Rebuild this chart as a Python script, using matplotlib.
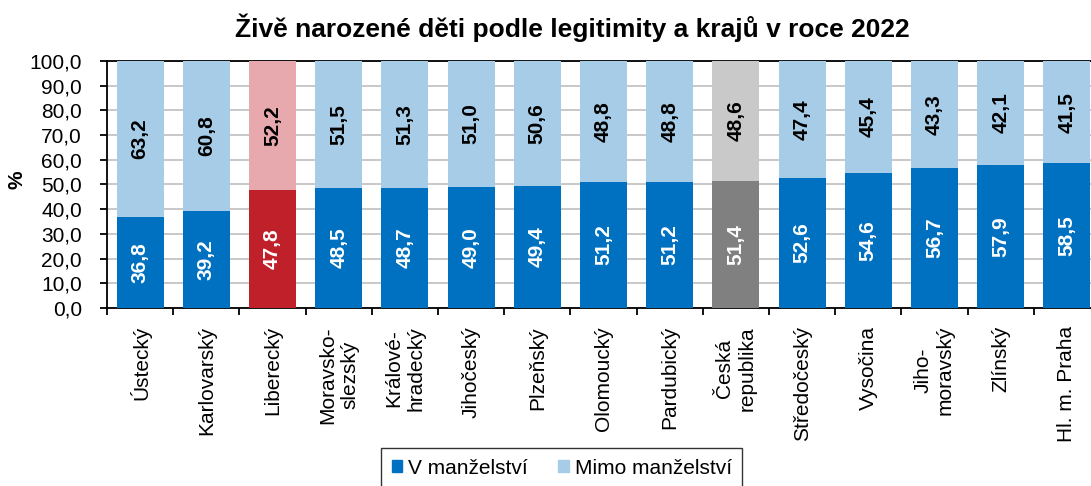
import numpy as np
import matplotlib.pyplot as plt
from matplotlib.patches import Patch

plt.rcParams['font.family'] = ['Liberation Sans', 'DejaVu Sans']

# data
regions = ["Ústecký", "Karlovarský", "Liberecký", "Moravsko-\nslezský", "Králové-\nhradecký",
           "Jihočeský", "Plzeňský", "Olomoucký", "Pardubický", "Česká\nrepublika",
           "Středočeský", "Vysočina", "Jiho-\nmoravský", "Zlínský", "Hl. m. Praha"]
v_manzelstvi = [36.8, 39.2, 47.8, 48.5, 48.7, 49.0, 49.4, 51.2, 51.2, 51.4, 52.6, 54.6, 56.7, 57.9, 58.5]
mimo_manzelstvi = [63.2, 60.8, 52.2, 51.5, 51.3, 51.0, 50.6, 48.8, 48.8, 48.6, 47.4, 45.4, 43.3, 42.1, 41.5]

dark = ["#0070C0"] * len(regions)
light = ["#A7CCE8"] * len(regions)
# Liberecký highlighted, Czech Republic in grey
dark[2] = "#C0202A"
light[2] = "#E8A9AE"
dark[9] = "#808080"
light[9] = "#C9C9C9"

fs = 15

fig = plt.figure(figsize=(10.91, 4.86), dpi=100)
ax = fig.add_axes([0.0981, 0.3663, 0.9101, 0.5082])

x = np.arange(len(regions))
w = 0.71
ax.bar(x, v_manzelstvi, w, color=dark, zorder=3)
ax.bar(x, mimo_manzelstvi, w, bottom=v_manzelstvi, color=light, zorder=3)

for i in range(len(regions)):
    ax.text(x[i], v_manzelstvi[i] / 2, f"{v_manzelstvi[i]:.1f}".replace(".", ","),
            rotation=90, ha="center", va="center", color="white", fontsize=fs, fontweight="bold", zorder=4)
    ax.text(x[i], v_manzelstvi[i] + mimo_manzelstvi[i] / 2, f"{mimo_manzelstvi[i]:.1f}".replace(".", ","),
            rotation=90, ha="center", va="center", color="black", fontsize=fs, fontweight="bold", zorder=4)

ax.set_xlim(-0.5, len(regions) - 0.5)
ax.set_ylim(0, 100)
ax.set_yticks(np.arange(0, 101, 10))
ax.set_yticklabels([f"{v:.1f}".replace(".", ",") for v in np.arange(0, 101, 10)], fontsize=fs)
ax.yaxis.grid(True, color="#BFBFBF", linewidth=1.2, zorder=0)
ax.set_xticks(np.arange(-0.5, len(regions), 1), minor=False)
ax.set_xticklabels([])
ax.set_xticks(x, minor=True)
ax.set_xticklabels(regions, minor=True, rotation=90, fontsize=fs)
ax.tick_params(axis="x", which="minor", length=0, pad=13)
ax.tick_params(axis="x", which="major", length=5, direction="out", width=1.3)
ax.tick_params(axis="y", length=5, width=1.3, pad=13)
for s in ["left", "bottom", "top"]:
    ax.spines[s].set_linewidth(1.3)
ax.spines["right"].set_visible(False)

fig.text(0.016, 0.63, "%", rotation=90, ha="center", va="center", fontsize=fs, fontweight="bold")
fig.text(0.525, 0.942, "Živě narozené děti podle legitimity a krajů v roce 2022",
         ha="center", va="center", fontsize=19, fontweight="bold")

handles = [Patch(color="#0070C0", label="V manželství"), Patch(color="#A7CCE8", label="Mimo manželství")]
leg = fig.legend(handles=handles, loc="upper center", bbox_to_anchor=(0.515, 0.078), ncol=2,
                 fontsize=fs, frameon=True, fancybox=False, edgecolor="black",
                 handlelength=0.5, handleheight=0.5, handletextpad=0.3, columnspacing=1.45,
                 borderpad=0.5, borderaxespad=0)
leg.get_frame().set_linewidth(1)

fig.savefig("out.png", dpi=100)
